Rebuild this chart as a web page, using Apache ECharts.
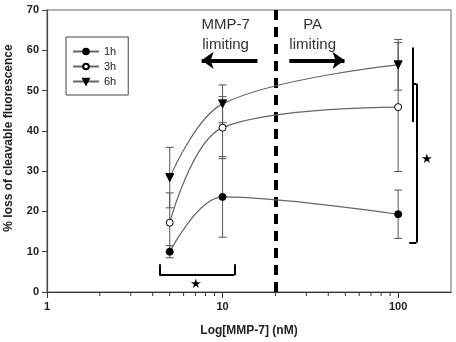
<!DOCTYPE html>
<html>
<head>
<meta charset="utf-8">
<script src="https://cdn.jsdelivr.net/npm/echarts@6/dist/echarts.min.js"></script>
<style>
  html, body { margin: 0; padding: 0; background: #fff; }
  #chart { width: 456px; height: 342px; }
</style>
</head>
<body>
<div id="chart"></div>
<script>
// MMP-7 concentrations (nM)
const conc = [5, 10, 100]
const h1 = [10, 23.6, 19.3]
const h1Err = [1.5, 10, 6]
const h3 = [17.2, 40.8, 45.9]
const h3Err = [7.4, 7.7, 16]
const h6 = [28.4, 46.7, 56.4]
const h6Err = [7.5, 4.7, 6.3]
const xTickLabels = ['1', '10', '100']
const minorTicks = [2, 3, 4, 5, 6, 7, 8, 9, 20, 30, 40, 50, 60, 70, 80, 90]

const font = 'Liberation Sans, Arial, sans-serif'
const chart = echarts.init(document.getElementById('chart'))

function pairs(vals) {
  return conc.map((c, i) => [c, vals[i]])
}

function errBars(vals, errs) {
  return conc.map((c, i) => [c, vals[i] - errs[i], vals[i] + errs[i]])
}

function renderErr(params, api) {
  const lo = api.coord([api.value(0), api.value(1)])
  const hi = api.coord([api.value(0), api.value(2)])
  const w = 4
  const style = { stroke: '#555', lineWidth: 1 }
  return {
    type: 'group',
    children: [
      { type: 'line', shape: { x1: lo[0], y1: lo[1], x2: hi[0], y2: hi[1] }, style },
      { type: 'line', shape: { x1: lo[0] - w, y1: lo[1], x2: lo[0] + w, y2: lo[1] }, style },
      { type: 'line', shape: { x1: hi[0] - w, y1: hi[1], x2: hi[0] + w, y2: hi[1] }, style }
    ]
  }
}

// minor log ticks below the x axis
function renderMinor(params, api) {
  const p = api.coord([api.value(0), api.value(1)])
  return {
    type: 'line',
    shape: { x1: p[0], y1: p[1], x2: p[0], y2: p[1] + 4 },
    style: { stroke: '#333', lineWidth: 1 }
  }
}

const blk = { color: '#000', width: 2, type: 'solid' }
function seg(a, b) {
  return [{ coord: a, lineStyle: blk }, { coord: b }]
}

const lineSeries = (name, vals, symbol, fill, rotate) => ({
  name,
  type: 'line',
  data: pairs(vals),
  smooth: 0.35,
  symbol,
  symbolSize: symbol === 'triangle' ? 8 : 7,
  symbolRotate: rotate || 0,
  itemStyle: { color: fill, borderColor: '#000', borderWidth: 1 },
  lineStyle: { color: '#666', width: 1.2 },
  z: 5
})

chart.setOption({
  animation: false,
  textStyle: { fontFamily: font },
  grid: {
    left: 47, right: 5, top: 10, bottom: 50,
    containLabel: false,
    outerBoundsMode: 'none',
    show: true, borderColor: '#999', borderWidth: 1.5
  },
  legend: {
    orient: 'vertical',
    left: 66, top: 37,
    padding: [9, 12, 8, 6],
    itemGap: 4,
    itemWidth: 26,
    itemHeight: 7,
    borderColor: '#444',
    borderWidth: 1,
    textStyle: { fontSize: 11, color: '#222', fontFamily: font },
    data: ['1h', '3h', '6h']
  },
  xAxis: {
    type: 'log',
    logBase: 10,
    min: 1,
    max: 200,
    name: 'Log[MMP-7] (nM)',
    nameLocation: 'middle',
    nameGap: 33,
    nameTextStyle: { fontSize: 12, fontWeight: 'bold', color: '#222' },
    axisLine: { lineStyle: { color: '#333', width: 1.2 } },
    axisTick: { length: 6, lineStyle: { color: '#333' } },
    axisLabel: {
      fontSize: 11, fontWeight: 'bold', color: '#222', margin: 9,
      showMaxLabel: false,
      formatter: v => (xTickLabels.indexOf(String(v)) >= 0 ? String(v) : '')
    },
    splitLine: { show: false }
  },
  yAxis: {
    type: 'value',
    min: 0,
    max: 70,
    interval: 10,
    name: '% loss of cleavable fluorescence',
    nameLocation: 'middle',
    nameGap: 32,
    nameTextStyle: { fontSize: 12, fontWeight: 'bold', color: '#222', padding: [0, 0, 0, 26] },
    axisLine: { show: true, lineStyle: { color: '#444', width: 1.2 } },
    axisTick: { show: true, length: 5, lineStyle: { color: '#444' } },
    axisLabel: { fontSize: 11, fontWeight: 'bold', color: '#222', margin: 8 },
    splitLine: { show: false }
  },
  series: [
    {
      type: 'custom',
      data: minorTicks.map(v => [v, 0]),
      encode: { x: 0, y: 1 },
      renderItem: renderMinor,
      clip: false,
      silent: true,
      z: 10
    },
    { type: 'custom', data: errBars(h1, h1Err), encode: { x: 0, y: [1, 2] }, renderItem: renderErr, z: 2, silent: true },
    { type: 'custom', data: errBars(h3, h3Err), encode: { x: 0, y: [1, 2] }, renderItem: renderErr, z: 2, silent: true },
    { type: 'custom', data: errBars(h6, h6Err), encode: { x: 0, y: [1, 2] }, renderItem: renderErr, z: 2, silent: true },
    lineSeries('1h', h1, 'circle', '#000'),
    lineSeries('3h', h3, 'circle', '#fff'),
    lineSeries('6h', h6, 'triangle', '#000', 180),
    {
      type: 'line',
      data: [],
      silent: true,
      markLine: {
        silent: true,
        symbol: 'none',
        label: { show: false },
        lineStyle: { type: 'solid' },
        animation: false,
        data: [
          { xAxis: 20, lineStyle: { color: '#000', width: 4, type: [10, 7] } },
          // bottom bracket
          seg([4.36, 6.9], [4.36, 4.2]),
          seg([4.36, 4.2], [11.7, 4.2]),
          seg([11.7, 4.2], [11.7, 6.9]),
          // right brackets
          seg([120.8, 60.7], [120.8, 42.2]),
          seg([120.8, 51.7], [127, 51.7]),
          seg([127, 51.7], [127, 12.3]),
          seg([127, 12.3], [115.6, 12.3]),
          // arrows
          [{ coord: [15.8, 57.5], symbol: 'none', lineStyle: { color: '#000', width: 4, type: 'solid' } },
           { coord: [7.6, 57.5], symbol: 'arrow', symbolSize: [13, 12] }],
          [{ coord: [24, 57.5], symbol: 'none', lineStyle: { color: '#000', width: 4, type: 'solid' } },
           { coord: [49.5, 57.5], symbol: 'arrow', symbolSize: [13, 12] }]
        ]
      },
      markPoint: {
        silent: true,
        symbol: 'circle',
        symbolSize: 0,
        label: { show: true, color: '#333', fontSize: 15, fontFamily: font, lineHeight: 20 },
        data: [
          { coord: [10.4, 63.8], label: { formatter: 'MMP-7\nlimiting' } },
          { coord: [32.6, 63.8], label: { formatter: 'PA\nlimiting' } },
          { coord: [7.07, 1.8], label: { formatter: '★', fontSize: 13, color: '#000' } },
          { coord: [146.6, 32.8], label: { formatter: '★', fontSize: 13, color: '#000' } }
        ]
      }
    }
  ]
})
</script>
</body>
</html>
